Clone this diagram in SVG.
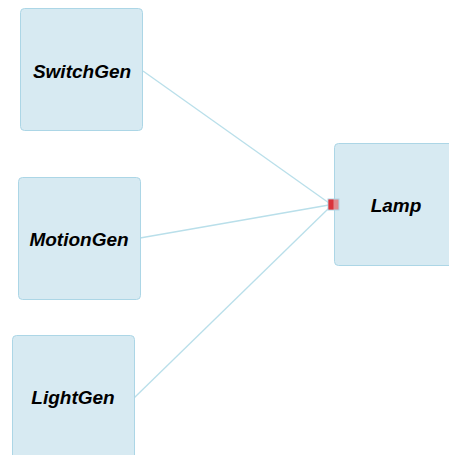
<svg xmlns="http://www.w3.org/2000/svg" width="449" height="455" viewBox="0 0 449 455">
<style>
.box{fill:#d7eaf2;stroke:#acd6e6;stroke-width:1}
.lbl{font-family:"Liberation Sans",Arial,sans-serif;font-size:19px;font-weight:bold;font-style:italic;fill:#000;text-anchor:middle;dominant-baseline:central}
.edge{stroke:#b9dfea;stroke-width:1.3;fill:none}
</style>
<rect width="449" height="455" fill="#fff"/>
<g id="connectors">
<line class="edge" x1="143" y1="71" x2="329" y2="203"/>
<line class="edge" x1="140" y1="238" x2="329" y2="205"/>
<line class="edge" x1="134" y1="398" x2="329" y2="208"/>
</g>
<g id="SwitchGen">
<rect class="box" x="20.5" y="8.5" width="122" height="122" rx="4"/>
<text class="lbl" x="82" y="71">SwitchGen</text>
</g>
<g id="MotionGen">
<rect class="box" x="18.5" y="177.5" width="122" height="122" rx="4"/>
<text class="lbl" x="79" y="239">MotionGen</text>
</g>
<g id="LightGen">
<rect class="box" x="12.5" y="335.5" width="122" height="130" rx="4"/>
<text class="lbl" x="73" y="397">LightGen</text>
</g>
<g id="Lamp">
<rect class="box" x="334.5" y="143.5" width="122" height="122" rx="4"/>
<text class="lbl" x="396" y="205">Lamp</text>
<rect x="328" y="199" width="11" height="11" fill="#e08a8e" stroke="#aed6e6" stroke-width="1"/>
<rect x="328.5" y="199.5" width="5" height="10" fill="#d9343c"/>
</g>
</svg>
